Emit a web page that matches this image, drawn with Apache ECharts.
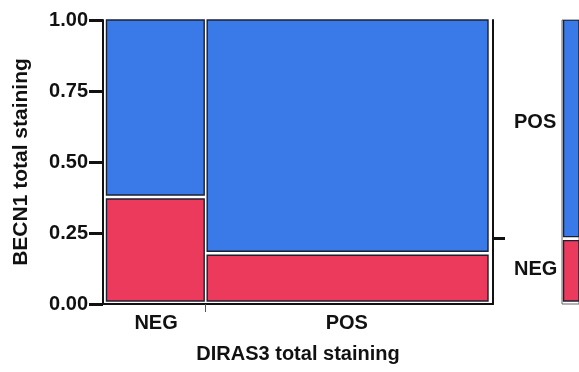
<!DOCTYPE html>
<html>
<head>
<meta charset="utf-8">
<style>
  html, body { margin: 0; padding: 0; background: #fff; }
  #chart { width: 579px; height: 372px; }
</style>
<script src="https://cdn.jsdelivr.net/npm/echarts@6/dist/echarts.min.js"></script>
</head>
<body>
<div id="chart"></div>
<script>
// Mosaic of BECN1 staining within DIRAS3 staining groups
const statusLabels = ['NEG', 'POS'];          // category names for both variables
const diras3Share = [0.26, 0.74];             // share of cases per DIRAS3 group (column widths)
const becn1NegShare = [0.37, 0.17];           // BECN1 NEG share within each DIRAS3 group
const yTickValues = [0, 0.25, 0.5, 0.75, 1];  // left axis ticks

const FONT = '"Liberation Sans", Arial, Helvetica, sans-serif';
const BLUE = '#3a79e8';
const RED = '#ec3a5d';
const EDGE = '#1c2030';

// overall BECN1 NEG share (marginal column)
const overallNeg = diras3Share.reduce((s, w, i) => s + w * becn1NegShare[i], 0);

// tiles: [x0, x1, y0, y1, colour index]
const tiles = [];
let acc = 0;
diras3Share.forEach((w, i) => {
  const neg = becn1NegShare[i];
  tiles.push([acc, acc + w, 0, neg, 0]);
  tiles.push([acc, acc + w, neg, 1, 1]);
  acc += w;
});
const colCentres = [];
acc = 0;
diras3Share.forEach(w => { colCentres.push(acc + w / 2); acc += w; });
const colBreaks = [];
acc = 0;
diras3Share.slice(0, -1).forEach(w => { acc += w; colBreaks.push(acc); });

const marginTiles = [
  [0, 1, 0, overallNeg, 0],
  [0, 1, overallNeg, 1, 1]
];

function tileRenderer(gapX, gapY) {
  return function (params, api) {
    const x0 = api.value(0), x1 = api.value(1), y0 = api.value(2), y1 = api.value(3);
    const tl = api.coord([x0, y1]);
    const br = api.coord([x1, y0]);
    let left = tl[0], right = br[0], top = tl[1], bottom = br[1];
    if (x0 > 0) left += gapX / 2;
    if (x1 < 1) right -= gapX / 2;
    if (y0 > 0) bottom -= gapY / 2;
    if (y1 < 1) top += gapY / 2;
    return {
      type: 'rect',
      shape: { x: left, y: top, width: right - left, height: bottom - top },
      style: {
        fill: api.value(4) === 0 ? RED : BLUE,
        stroke: EDGE,
        lineWidth: 1.4
      }
    };
  };
}

const labelStyle = { color: '#111', fontFamily: FONT, fontWeight: 'bold', fontSize: 20 };

const chart = echarts.init(document.getElementById('chart'), null, { renderer: 'canvas' });
chart.setOption({
  animation: false,
  backgroundColor: '#fff',
  grid: [
    { left: 103, top: 20, width: 390, height: 284, containLabel: false },
    { left: 562, top: 20, width: 40, height: 284, show: true, borderColor: '#666', borderWidth: 1, backgroundColor: 'transparent' }
  ],
  xAxis: [
    {
      type: 'value', gridIndex: 0, min: -0.00917, max: 1.0131,
      splitLine: { show: false },
      axisLine: { show: true, onZero: false, lineStyle: { color: '#111', width: 2 } },
      axisTick: { show: true, customValues: colBreaks, length: 8, lineStyle: { color: '#555', width: 1 } },
      axisLabel: {
        show: true, customValues: colCentres, margin: 9,
        formatter: v => statusLabels[colCentres.findIndex(c => Math.abs(c - v) < 1e-6)],
        ...labelStyle, fontSize: 20
      },
      name: 'DIRAS3 total staining', nameLocation: 'middle', nameGap: 40,
      nameTextStyle: { ...labelStyle, fontSize: 20 }
    },
    {
      type: 'value', gridIndex: 1, min: -0.1, max: 1, show: false
    }
  ],
  yAxis: [
    {
      type: 'value', gridIndex: 0, position: 'left', min: 0, max: 1, interval: 0.25,
      splitLine: { show: false },
      axisLine: { show: true, onZero: false, lineStyle: { color: '#111', width: 2 } },
      axisTick: { show: true, customValues: yTickValues, length: 14, lineStyle: { color: '#111', width: 3 } },
      axisLabel: {
        customValues: yTickValues, margin: 15,
        formatter: v => v.toFixed(2), ...labelStyle, fontSize: 20
      },
      name: 'BECN1 total staining', nameLocation: 'middle', nameGap: 71, nameRotate: 90,
      nameTextStyle: { ...labelStyle, fontSize: 21 }
    },
    {
      type: 'value', gridIndex: 0, position: 'right', min: -0.0107, max: 1,
      splitLine: { show: false },
      axisLine: { show: true, onZero: false, lineStyle: { color: '#111', width: 2 } },
      axisTick: { show: true, customValues: [overallNeg], length: 12, lineStyle: { color: '#111', width: 3 } },
      axisLabel: {
        customValues: [overallNeg / 2, (1 + overallNeg) / 2], margin: 21,
        formatter: v => v < overallNeg ? '{neg|' + statusLabels[0] + '}' : '{pos|' + statusLabels[1] + '}',
        ...labelStyle, fontSize: 20,
        rich: {
          neg: { ...labelStyle, fontSize: 20 },
          pos: { ...labelStyle, fontSize: 20, padding: [0, 0, 14, 0] }
        }
      }
    },
    {
      type: 'value', gridIndex: 1, min: -0.0107, max: 1, show: false
    }
  ],
  series: [
    {
      type: 'custom', xAxisIndex: 0, yAxisIndex: 1,
      renderItem: tileRenderer(3, 4), data: tiles, silent: true
    },
    {
      type: 'custom', xAxisIndex: 1, yAxisIndex: 2,
      renderItem: tileRenderer(3, 4), data: marginTiles, silent: true, clip: true
    }
  ]
});
</script>
</body>
</html>
